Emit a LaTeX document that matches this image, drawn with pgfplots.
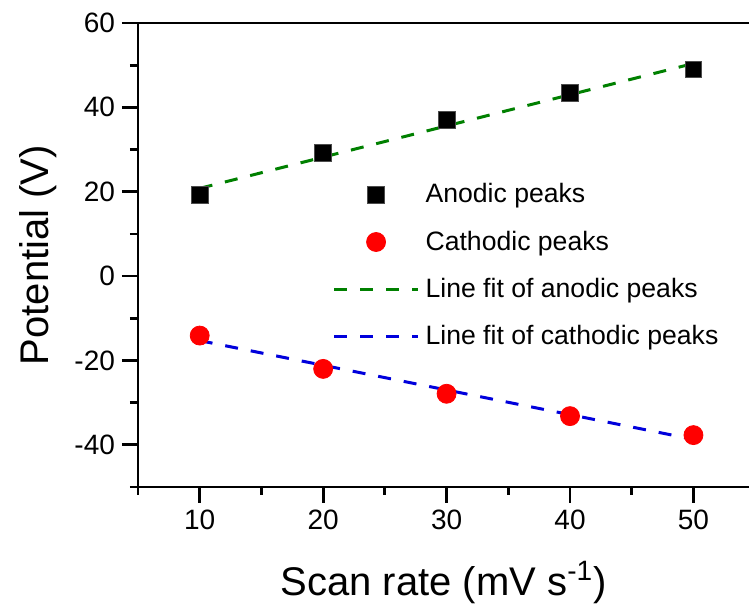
\documentclass[border=0pt]{standalone}
\usepackage{fontspec}
\setmainfont{Liberation Sans}
\usepackage{pgfplots}
\pgfplotsset{compat=1.18}
\usetikzlibrary{calc}

\definecolor{fitgreen}{RGB}{0,128,0}
\definecolor{fitblue}{RGB}{0,0,220}

\pgfplotsset{
  markleg/.style={legend image code/.code={\draw[##1] plot coordinates {(21pt,0pt)};}},
  lineleg/.style={legend image code/.code={\draw[##1] (0pt,0pt) -- (42pt,0pt);}},
}

\begin{document}
\begin{tikzpicture}
\begin{axis}[
  name=ax,
  scale only axis, width=305.5pt, height=232pt,
  xmin=5, xmax=54.5, ymin=-50, ymax=60,
  axis x line*=box, axis y line*=left,
  xtick pos=left, ytick pos=left,
  xtick={10,20,30,40,50}, minor xtick={5,15,25,35,45,55},
  ytick={-40,-20,0,20,40,60}, minor ytick={-50,-30,-10,10,30,50},
  tick align=outside, major tick length=8pt, minor tick length=4pt,
  every tick/.style={black, line width=1.4pt},
  axis line style={line width=1.4pt},
  /pgf/number format/assume math mode=true,
  tick label style={font=\fontsize{14}{16}\selectfont},
  label style={font=\fontsize{20}{23}\selectfont},
  xlabel={Scan rate (mV s\textsuperscript{-1})},
  ylabel={Potential (V)},
  xlabel shift=9pt, ylabel shift=2pt,
  clip=false,
  legend cell align=left,
  legend style={draw=none, fill=none, font=\fontsize{13.3}{15}\selectfont,
    at={(rel axis cs:0.308,0.672)}, anchor=north west, row sep=8.5pt,
    nodes={inner xsep=3pt}},
]
\addplot[only marks, mark=square*, mark size=4.2pt, mark options={fill=black, draw=black!70}, markleg]
  coordinates {(10,19.2)(20,29.2)(30,37.1)(40,43.5)(50,49.0)};
\addlegendentry{Anodic peaks}
\addplot[only marks, mark=*, mark size=4.75pt, mark options={fill=red, draw=red}, markleg]
  coordinates {(10,-14.1)(20,-22.0)(30,-27.9)(40,-33.2)(50,-37.7)};
\addlegendentry{Cathodic peaks}
\addplot[fitgreen, line width=1.5pt, dash pattern=on 6.5pt off 6.5pt, no marks, lineleg]
  coordinates {(10,20.8)(50,50.4)};
\addlegendentry{Line fit of anodic peaks}
\addplot[fitblue, line width=1.5pt, dash pattern=on 6.5pt off 6.5pt, no marks, lineleg]
  coordinates {(10,-15.3)(50,-38.7)};
\addlegendentry{Line fit of cathodic peaks}
\end{axis}
\pgfresetboundingbox
\path ($(ax.south west)+(-69pt,-60.5pt)$) rectangle ($(ax.north east)+(0pt,11.5pt)$);
\end{tikzpicture}
\end{document}
